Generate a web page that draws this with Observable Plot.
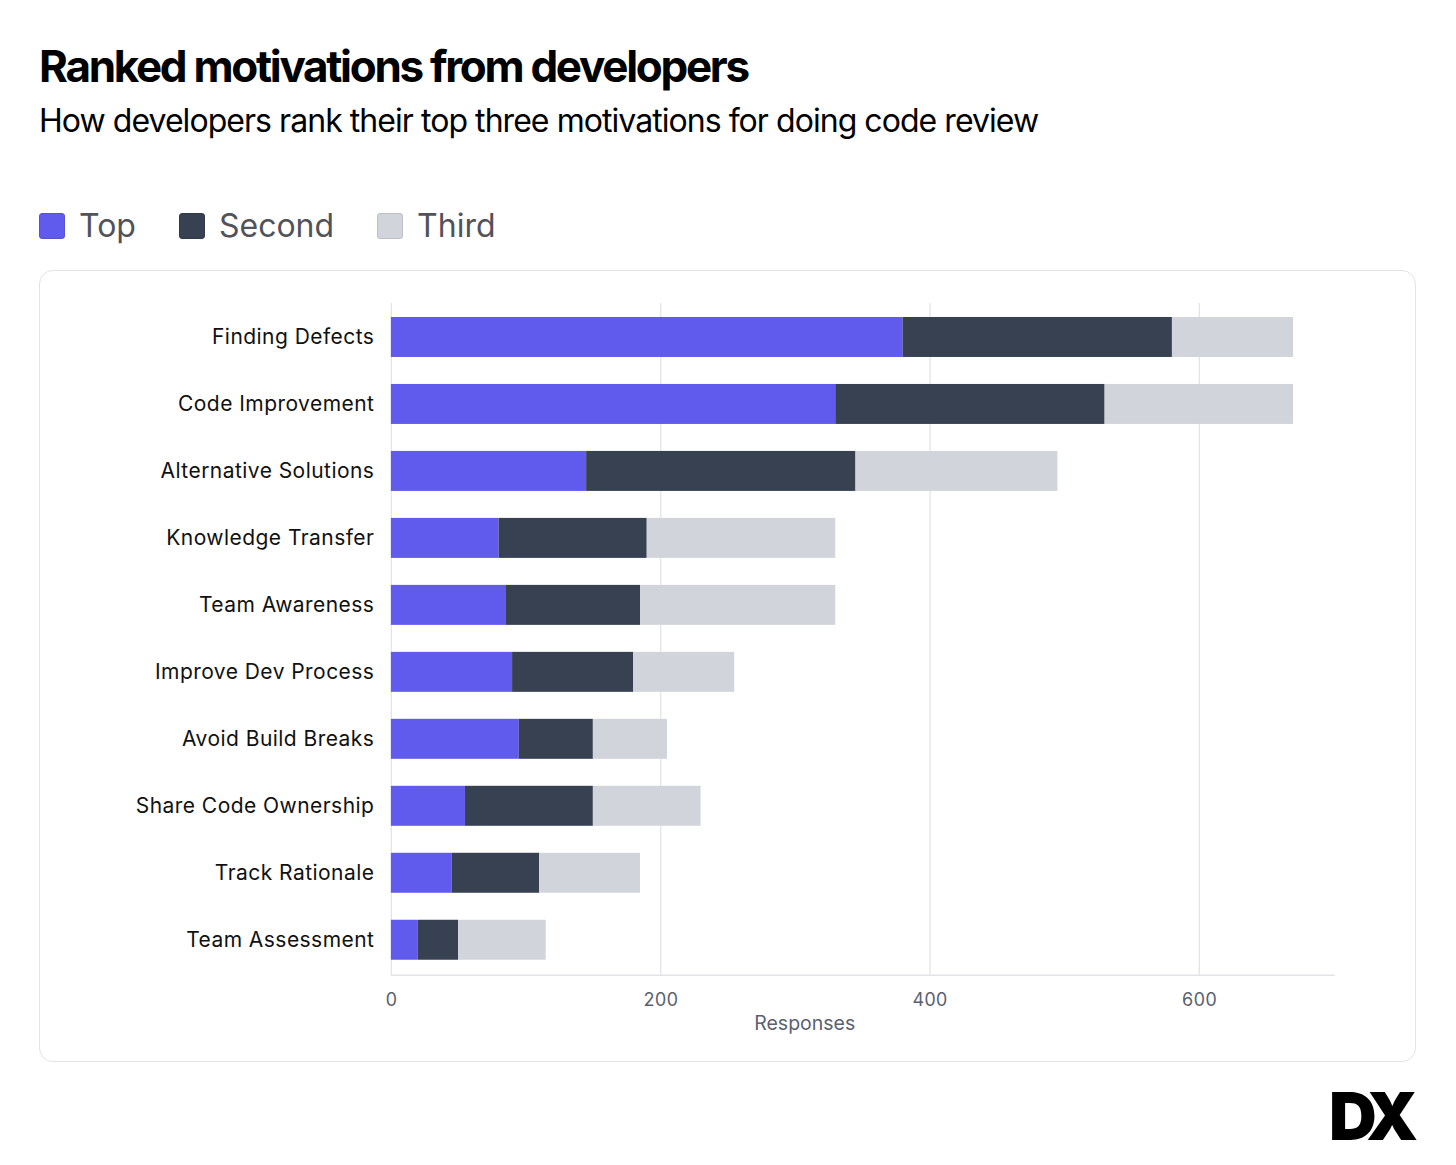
<!DOCTYPE html>
<html>
<head>
<meta charset="utf-8">
<script src="https://cdn.jsdelivr.net/npm/d3@7"></script>
<script src="https://cdn.jsdelivr.net/npm/@observablehq/plot@0.6"></script>
<style>
  html, body { margin: 0; padding: 0; background: #fff; }
  body { width: 1456px; height: 1165px; position: relative; font-family: Inter, "Noto Sans", sans-serif; }
  #title { position: absolute; left: 39px; top: 44px; font-size: 44px; font-weight: 700; letter-spacing: -2.3px; color: #000; line-height: 1; white-space: nowrap; }
  #subtitle { position: absolute; left: 39px; top: 105px; font-size: 32px; font-weight: 400; letter-spacing: -0.95px; color: #000; line-height: 1; white-space: nowrap; }
  #legend { position: absolute; left: 39px; top: 210px; display: flex; align-items: center; font-size: 32px; color: #52525b; line-height: 1; }
  .item { display: flex; align-items: center; margin-right: 43px; }
  .sw { width: 26px; height: 26px; border-radius: 3px; margin-right: 14px; box-sizing: border-box; }
  #card { position: absolute; left: 39px; top: 270px; width: 1377px; height: 792px; border: 1.5px solid #e2e3e8; border-radius: 14px; box-sizing: border-box; overflow: hidden; }
  #chart { position: absolute; left: -1.5px; top: -1.5px; }
  #chart g[aria-label="y-axis tick label"] text { letter-spacing: 0.46px; }
  #logo { position: absolute; left: 1329px; top: 1083px; font-size: 66px; font-weight: 900; letter-spacing: -6px; color: #000; line-height: 1; font-family: Inter, sans-serif; }
</style>
</head>
<body>
<div id="title">Ranked motivations from developers</div>
<div id="subtitle">How developers rank their top three motivations for doing code review</div>
<div id="legend"></div>
<div id="card"><div id="chart"></div></div>
<div id="logo">DX</div>
<script>
const categories = ["Finding Defects","Code Improvement","Alternative Solutions","Knowledge Transfer","Team Awareness","Improve Dev Process","Avoid Build Breaks","Share Code Ownership","Track Rationale","Team Assessment"];
const ranks = ["Top","Second","Third"];
const topValues    = [380, 330, 145, 80, 85, 90, 95, 55, 45, 20];
const secondValues = [200, 200, 200, 110, 100, 90, 55, 95, 65, 30];
const thirdValues  = [90, 140, 150, 140, 145, 75, 55, 80, 75, 65];
const colors = ["#605bec", "#374151", "#d1d5db"];
const xTicks = [0, 200, 400, 600];

const series = [topValues, secondValues, thirdValues];
const data = [];
categories.forEach((c, i) => {
  ranks.forEach((r, j) => data.push({category: c, rank: r, value: series[j][i]}));
});

const legend = document.getElementById("legend");
ranks.forEach((r, j) => {
  const it = document.createElement("div");
  it.className = "item";
  const sw = document.createElement("div");
  sw.className = "sw";
  sw.style.background = colors[j];
  sw.style.border = "1px solid " + d3.color(colors[j]).darker(0.3);
  const t = document.createElement("span");
  t.textContent = r;
  it.appendChild(sw); it.appendChild(t);
  legend.appendChild(it);
});

const chart = Plot.plot({
  width: 1377,
  height: 792,
  marginLeft: 352,
  marginRight: 82,
  marginTop: 33,
  marginBottom: 87,
  style: {fontFamily: "Inter, sans-serif", background: "transparent"},
  x: {domain: [0, 700], ticks: xTicks, label: "Responses", labelAnchor: "center", labelArrow: "none"},
  y: {domain: categories, paddingInner: 0.4, paddingOuter: 0.2, label: null},
  color: {domain: ranks, range: colors},
  marks: [
    Plot.ruleX(xTicks, {stroke: "#e3e4e8", strokeWidth: 1.3}),
    Plot.frame({anchor: "bottom", stroke: "#e3e4e8", strokeWidth: 1.5}),
    Plot.barX(data, Plot.stackX({y: "category", x: "value", fill: "rank", order: ranks})),
    Plot.axisX({ticks: xTicks, tickSize: 0, tickPadding: 18, fontSize: 18, fill: "#5b6170", label: null}),
    Plot.text(["Responses"], {frameAnchor: "bottom", dy: 55, dx: -58, fontSize: 19.5, fill: "#5b6170"}),
    Plot.axisY({tickSize: 0, tickPadding: 17, fontSize: 21, fill: "#111"})
  ]
});
document.getElementById("chart").appendChild(chart);
</script>
</body>
</html>
